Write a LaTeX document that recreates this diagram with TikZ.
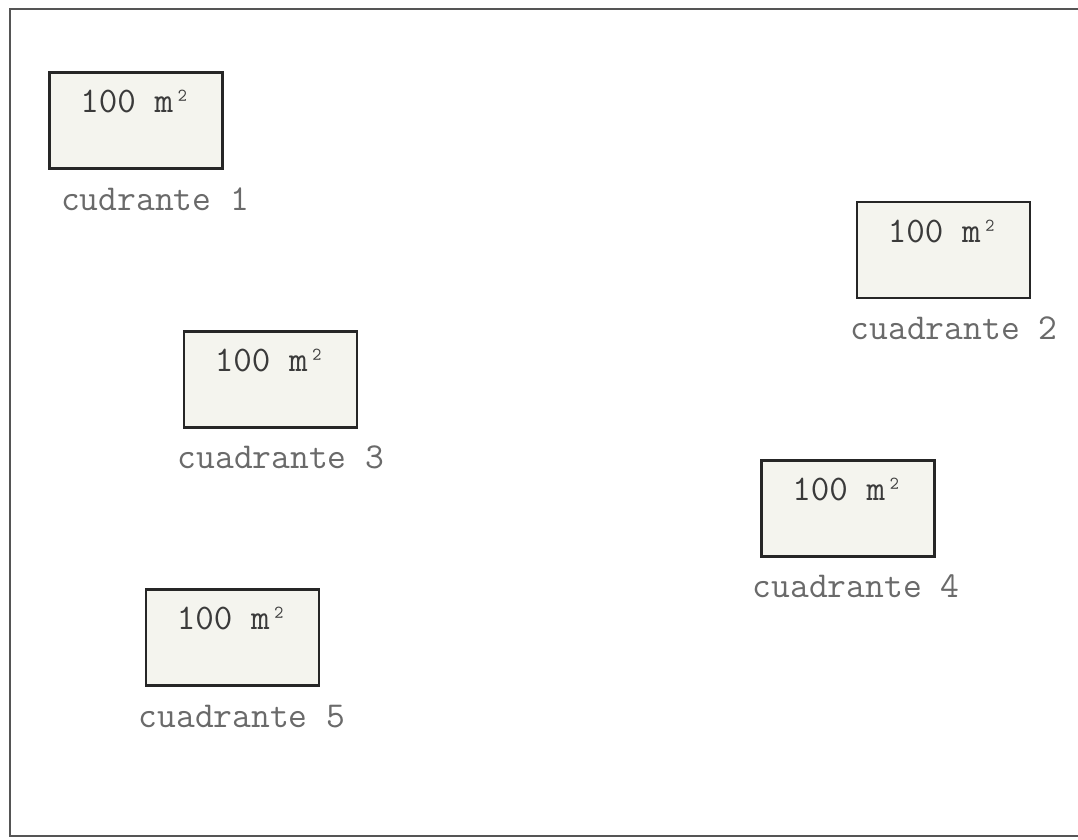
\documentclass[tikz,border=0pt]{standalone}
\usepackage{fontspec}
\definecolor{boxfill}{HTML}{F4F4EE}
\definecolor{areatext}{HTML}{3A3A3A}
\definecolor{labeltext}{HTML}{6A6A6A}
\definecolor{framegray}{HTML}{555555}
\begin{document}
\begin{tikzpicture}[x=1pt,y=-1pt,style=thick]
\tikzstyle{plot}=[draw=black!85, line width=2.6pt, fill=boxfill, inner sep=0pt, minimum width=173pt, text height=40pt, text depth=56pt, font=\ttfamily\fontsize{36}{40}\selectfont, text=areatext]
\tikzstyle{tag}=[anchor=base, inner sep=0pt, font=\ttfamily\fontsize{36.5}{40}\selectfont, text=labeltext]

\useasboundingbox[fill=white] (0,0) rectangle (1078,839);
\draw[framegray, line width=2.6pt] (1078,9) -- (10,9) -- (10,836) -- (1078,836);

\node[plot] (q1) at (136,120.5) {100 m²};
\node[plot] (q2) at (943.5,250) {100 m²};
\node[plot] (q3) at (270.5,379.5) {100 m²};
\node[plot] (q4) at (848,508.5) {100 m²};
\node[plot] (q5) at (232.5,637.5) {100 m²};

\node[tag] (l1) at (155,210) {cudrante 1};
\node[tag] (l2) at (954,339) {cuadrante 2};
\node[tag] (l3) at (281,468) {cuadrante 3};
\node[tag] (l4) at (856,597) {cuadrante 4};
\node[tag] (l5) at (242,727) {cuadrante 5};
\end{tikzpicture}
\end{document}
